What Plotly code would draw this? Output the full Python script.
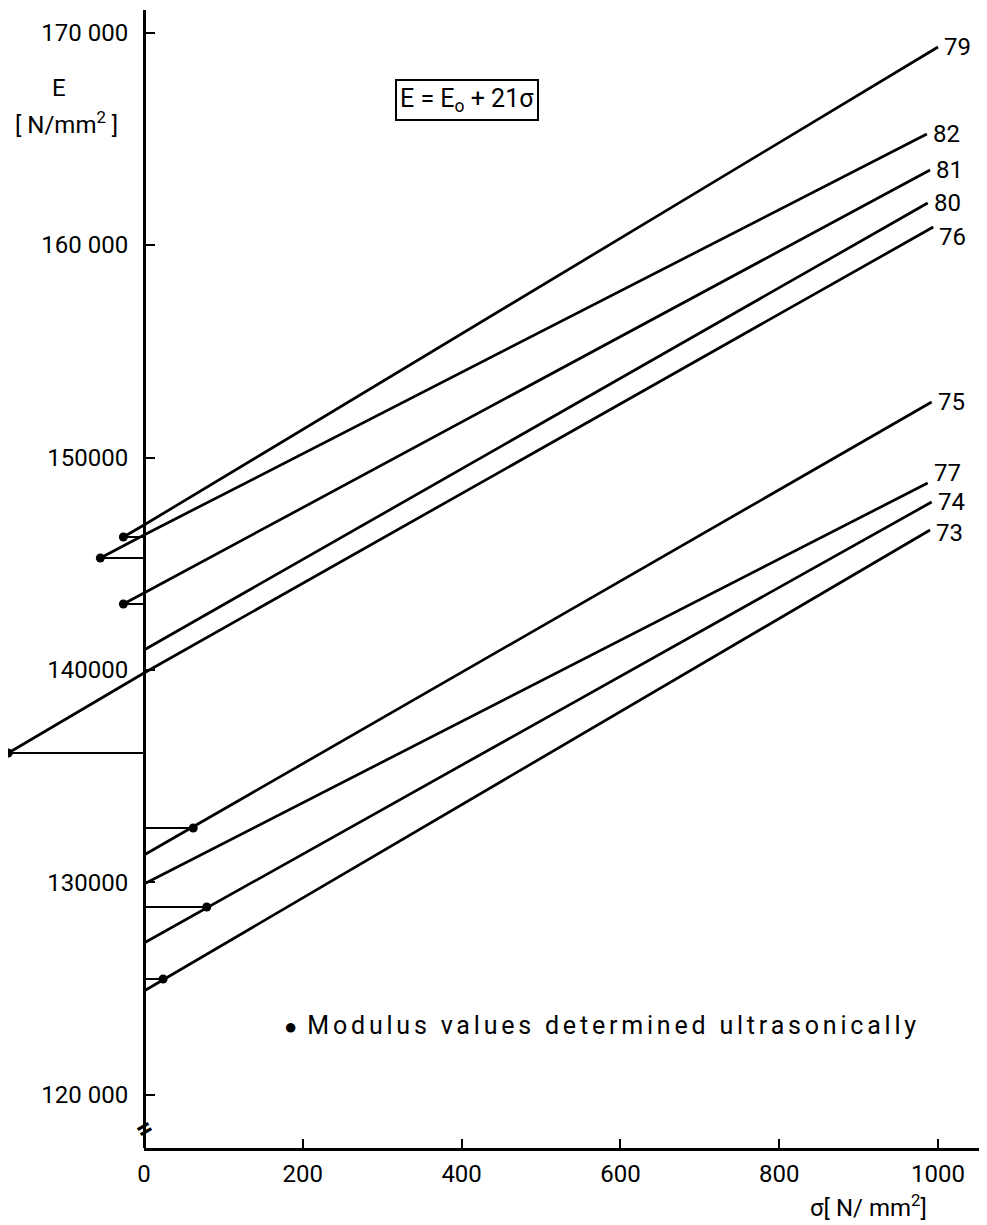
import plotly.graph_objects as go

# ---------------- data ----------------
specimens = ["79", "82", "81", "80", "76", "75", "77", "74", "73"]
e_at_zero = [146823, 146353, 143623, 140941, 139858, 131293, 129928, 127152, 124893]
sigma_end = [1000, 986, 990, 987, 994, 992, 987, 992, 990]
e_at_end = [169318, 165223, 163529, 161976, 160847, 152611, 148800, 147905, 146588]
# ultrasonically determined modulus values (None = no point)
dot_sigma = [-26, -55, -26, None, -171, 62, None, 79, 24]
dot_e = [146258, 145269, 143106, None, 136093, 132564, None, 128846, 125457]
label_yshift = [0, 0, 0, 0, -10, 0, 10, 0, -3]

y_tickvals = [120000, 130000, 140000, 150000, 160000, 170000]
y_ticktext = ["120 000", "130000", "140000", "150000", "160 000", "170 000"]
x_tickvals = [0, 200, 400, 600, 800, 1000]
x_ticktext = ["0", "200", "400", "600", "800", "1000"]

# ---------------- layout constants ----------------
OFF = 8                      # default page margin of the HTML body
W, H = 987 - OFF, 1225 - OFF
PLOT_TOP, PLOT_BOTTOM = 10, 1148          # page pixels
M_T, M_B = PLOT_TOP - OFF, (H + OFF) - PLOT_BOTTOM
X_MIN, X_MAX = -171.3, 1061.7
Y_MIN, Y_MAX = 117505, 171060
X_AXIS_END = 1057
FONT = "Roboto"
LW = 2.7

fig = go.Figure()

for i, name in enumerate(specimens):
    if dot_sigma[i] is not None and dot_sigma[i] < 0:
        xs = [dot_sigma[i], 0, sigma_end[i]]
        ys = [dot_e[i], e_at_zero[i], e_at_end[i]]
    else:
        xs = [0, sigma_end[i]]
        ys = [e_at_zero[i], e_at_end[i]]
    fig.add_trace(go.Scatter(x=xs, y=ys, mode="lines",
                             line=dict(color="black", width=LW),
                             showlegend=False, hoverinfo="skip"))
    if dot_sigma[i] is not None:
        # horizontal reference from the axis to the ultrasonic point
        fig.add_trace(go.Scatter(x=[0, dot_sigma[i]], y=[dot_e[i], dot_e[i]],
                                 mode="lines", line=dict(color="black", width=2),
                                 showlegend=False, hoverinfo="skip"))
        fig.add_trace(go.Scatter(x=[dot_sigma[i]], y=[dot_e[i]], mode="markers",
                                 marker=dict(color="black", size=9),
                                 showlegend=False, hoverinfo="skip", cliponaxis=False))
    fig.add_annotation(x=sigma_end[i], y=e_at_end[i], text=name, showarrow=False,
                       xanchor="left", yanchor="middle", xshift=4,
                       yshift=label_yshift[i],
                       font=dict(family=FONT, size=24, color="black"))

# dummy trace so that the secondary x axis (drawn from sigma = 0) exists
fig.add_trace(go.Scatter(x=[None], y=[None], xaxis="x2", yaxis="y",
                         showlegend=False, hoverinfo="skip"))

span = X_MAX - X_MIN
y_pos = (0 - X_MIN) / span
plot_h = PLOT_BOTTOM - PLOT_TOP


def px_x(px):
    return X_MIN + (px - OFF) / W * span


def px_y(py):
    return Y_MAX - (py - PLOT_TOP) / plot_h * (Y_MAX - Y_MIN)


def paper_x(px):
    return (px - OFF) / W


def paper_y(py):
    return (PLOT_BOTTOM - py) / plot_h


fig.update_layout(
    width=W, height=H, autosize=False,
    margin=dict(l=0, r=0, t=M_T, b=M_B, pad=0, autoexpand=False),
    paper_bgcolor="white", plot_bgcolor="rgba(0,0,0,0)",
    showlegend=False,
    xaxis=dict(range=[X_MIN, X_MAX], visible=False, showgrid=False, zeroline=False,
               automargin=False),
    xaxis2=dict(domain=[y_pos, (X_AXIS_END - X_MIN) / span], range=[0, X_AXIS_END],
                anchor="y", showline=True, linecolor="black", linewidth=3,
                ticks="inside", ticklen=9, tickwidth=2, tickcolor="black",
                tickvals=x_tickvals, ticktext=x_ticktext,
                tickfont=dict(family=FONT, size=24, color="black"),
                ticklabelstandoff=2, showgrid=False, zeroline=False, automargin=False),
    yaxis=dict(range=[Y_MIN, Y_MAX], anchor="free", position=y_pos,
               showline=True, linecolor="black", linewidth=3,
               ticks="inside", ticklen=9, tickwidth=2, tickcolor="black",
               tickvals=y_tickvals, ticktext=y_ticktext,
               tickfont=dict(family=FONT, size=24, color="black"),
               ticklabelstandoff=10, showgrid=False, zeroline=False, automargin=False),
)

# axis titles
fig.add_annotation(x=px_x(59), y=px_y(88), text="E", showarrow=False,
                   font=dict(family=FONT, size=24, color="black"))
fig.add_annotation(x=px_x(66), y=px_y(123), text="[ N/mm<sup>2</sup> ]", showarrow=False,
                   font=dict(family=FONT, size=24, color="black"))
fig.add_annotation(x=paper_x(868), y=paper_y(1206), xref="paper", yref="paper",
                   xanchor="center", yanchor="middle",
                   text="σ[ N/ mm<sup>2</sup>]", showarrow=False,
                   font=dict(family=FONT, size=24, color="black"))

# formula box
fig.add_annotation(x=px_x(467), y=px_y(100), text="E = E<sub>o</sub> + 21σ", showarrow=False,
                   font=dict(family=FONT, size=25, color="black"),
                   bordercolor="black", borderwidth=2, borderpad=3, bgcolor="white")

# note
fig.add_annotation(x=px_x(282), y=px_y(1025),
                   text="<span style='font-size:22px'>●</span>"
                        "<span style='letter-spacing:3.8px'> Modulus values determined ultrasonically</span>",
                   showarrow=False, xanchor="left",
                   font=dict(family=FONT, size=25, color="black"))

# axis break mark
fig.add_annotation(x=0, y=px_y(1128), text="<b>=</b>", showarrow=False, textangle=-30,
                   font=dict(family=FONT, size=28, color="black"))

fig.write_html("out.html")
